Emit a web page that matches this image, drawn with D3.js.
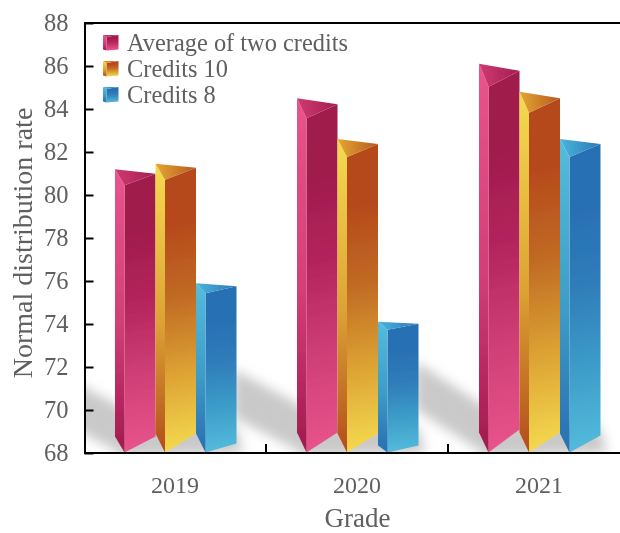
<!DOCTYPE html>
<html><head><meta charset="utf-8">
<script src="https://cdn.jsdelivr.net/npm/d3@7"></script>
<style>html,body{margin:0;padding:0;background:#fff}svg{display:block}text{font-family:"Liberation Serif","Times New Roman",serif;fill:#5f5f5f}</style>
</head><body><div id="c"></div>
<script>
const years = ["2019","2020","2021"];
const seriesNames = ["Average of two credits","Credits 10","Credits 8"];
const averageOfTwo = [81.2,84.5,86.1];
const credits10 = [81.45,82.6,84.8];
const credits8 = [75.9,74.1,82.6];
const yTicks = [68,70,72,74,76,78,80,82,84,86,88];
const seriesValues = [averageOfTwo,credits10,credits8];

// Perspective styling (pixel offsets of each 3D box): [top right drop, top front drop, bottom left rise, bottom right rise]
const boxStyle = [
 [[4.5,16,16],[4,16,19],[3,10,19]],
 [[6,20,20],[5,18,19],[2,8,7]],
 [[7,23,20],[6.5,21,20],[5,18,19]]
];
const bottomRight = [[16,19,9],[20,19,7],[23,20,17]];
const palettes = [
 {dark:"#a01c4c",mid1:"#b3245c",mid2:"#d03f76",light:"#e9548c",topA:"#cf3a72",topB:"#a41e50"},
 {dark:"#b64a1c",mid1:"#c06a24",mid2:"#dca233",light:"#f5db50",topA:"#e3a733",topB:"#b9581f"},
 {dark:"#2870b3",mid1:"#2f7cb9",mid2:"#3c9cc8",light:"#55bcdc",topA:"#4ab5db",topB:"#2b78b8"}
];

const W=620,H=533;
const svg=d3.select("#c").append("svg").attr("width",W).attr("height",H);
const defs=svg.append("defs");
const blur=(id,s)=>defs.append("filter").attr("id",id).attr("x","-30%").attr("y","-30%").attr("width","160%").attr("height","160%")
  .append("feGaussianBlur").attr("stdDeviation",s);
blur("soft",0.45);blur("shadow",6);blur("txt",0.35);
defs.append("clipPath").attr("id","plotClip").append("rect").attr("x",85).attr("y",24).attr("width",535).attr("height",428);

palettes.forEach((p,i)=>{
  const g=(id,x1,y1,x2,y2,st)=>{const lg=defs.append("linearGradient").attr("id",id+i)
     .attr("x1",x1).attr("y1",y1).attr("x2",x2).attr("y2",y2);
     st.forEach(([o,c])=>lg.append("stop").attr("offset",o).attr("stop-color",c));};
  g("front",0.49,0,0.51,1,[[0,p.dark],[0.2,p.dark],[0.45,p.mid1],[0.72,p.mid2],[1,p.light]]);
  g("side",0,0,0,1,[[0,p.light],[0.55,p.mid2],[0.85,p.mid1],[1,p.dark]]);
  g("top",0,0,1,0,[[0,p.topA],[1,p.topB]]);
});

const y=d3.scaleLinear().domain([68,88]).range([453,23]);
const x0=d3.scaleBand().domain(years).range([84,630]);
const x1=d3.scaleBand().domain(seriesNames).range([31,152.5]);
const line=d3.line();

// shadows
const sh=svg.append("g").attr("clip-path","url(#plotClip)").append("g").attr("filter","url(#shadow)").attr("fill","#c9c9c9");
const shadowRise=[0,0,8];
years.forEach((yr,i)=>{
  const b=x0(yr)+31, y0=y(68), r=shadowRise[i];
  sh.append("path").attr("d",line([[b-64,y0-84-r],[b+10,y0-44],[b+10,y0+4],[b-2,y0-4],[b-64,y0-36-r]])+"Z");
  sh.append("path").attr("d",line([[b,y0-40],[b+121,y0-26],[b+128,y0],[b+5,y0+4]])+"Z");
});

// bars
const bars=svg.append("g").attr("filter","url(#soft)");
seriesNames.forEach((s,si)=>{
  years.forEach((yr,yi)=>{
    const x=x0(yr)+x1(s), w=x1.bandwidth(), sideW=9.5;
    const yL=y(seriesValues[si][yi]), st=boxStyle[yi][si];
    const yR=yL+st[0], yF=yL+st[1], y0=y(68)-0.5;
    const bl=st[2], br=bottomRight[yi][si];
    const g=bars.append("g");
    g.append("path").attr("fill",`url(#front${si})`).attr("d",line([[x+sideW,yF],[x+w,yR],[x+w,y0-br],[x+sideW,y0]])+"Z");
    g.append("path").attr("fill",`url(#side${si})`).attr("d",line([[x,yL],[x+sideW,yF],[x+sideW,y0],[x,y0-bl]])+"Z");
    g.append("path").attr("fill",`url(#top${si})`).attr("d",line([[x,yL],[x+w,yR],[x+sideW,yF]])+"Z");
  });
});

// axes
const ax=d3.axisLeft(y).tickValues(yTicks).tickSizeInner(-9).tickSizeOuter(0).tickPadding(16);
const gy=svg.append("g").attr("transform","translate(84.5,0)").call(ax);
gy.select(".domain").attr("stroke","#000").attr("stroke-width",2);
gy.selectAll(".tick line").attr("stroke","#000").attr("stroke-width",2);
gy.selectAll(".tick text").attr("font-size",24.5);
const xEdge=d3.scaleOrdinal().domain(["a","b"]).range([x0("2020"),x0("2021")]);
const ax2=d3.axisBottom(d3.scalePoint().domain(years).range([x0("2019")+x0.bandwidth()/2-0.5,x0("2021")+x0.bandwidth()/2-0.5]))
  .tickSize(0).tickPadding(23);
const gx=svg.append("g").attr("transform","translate(0,453)").call(ax2);
gx.select(".domain").remove();
gx.selectAll(".tick text").attr("font-size",24);
svg.append("g").selectAll("line").data(["a","b"]).join("line")
  .attr("x1",d=>xEdge(d)).attr("x2",d=>xEdge(d)).attr("y1",453).attr("y2",444).attr("stroke","#000").attr("stroke-width",2);
svg.append("line").attr("x1",84).attr("x2",620).attr("y1",453).attr("y2",453).attr("stroke","#000").attr("stroke-width",2);
svg.append("line").attr("x1",84).attr("x2",620).attr("y1",23).attr("y2",23).attr("stroke","#000").attr("stroke-width",2);

// axis titles
svg.append("text").attr("x",357.5).attr("y",527).attr("text-anchor","middle").attr("font-size",27).text("Grade");
svg.append("text").attr("transform","translate(32,243) rotate(-90)").attr("text-anchor","middle").attr("font-size",28).text("Normal distribution rate");

// legend
const legend=svg.append("g");
seriesNames.forEach((s,i)=>{
  const top=35+i*26, g=legend.append("g");
  const sx=103, sw=15.5, sh2=15.5, side=3.5;
  g.append("path").attr("fill",`url(#front${i})`).attr("d",line([[sx+side,top+2],[sx+sw,top],[sx+sw,top+sh2-1],[sx+side,top+sh2]])+"Z");
  g.append("path").attr("fill",`url(#side${i})`).attr("d",line([[sx,top],[sx+side,top+2],[sx+side,top+sh2],[sx,top+sh2-1]])+"Z");
  g.append("path").attr("fill",`url(#top${i})`).attr("d",line([[sx,top],[sx+sw,top],[sx+side,top+2]])+"Z");
  legend.append("text").attr("x",127).attr("y",top+15.5).attr("font-size",24.4).text(s);
});
svg.selectAll("text").attr("filter","url(#txt)");
</script></body></html>
